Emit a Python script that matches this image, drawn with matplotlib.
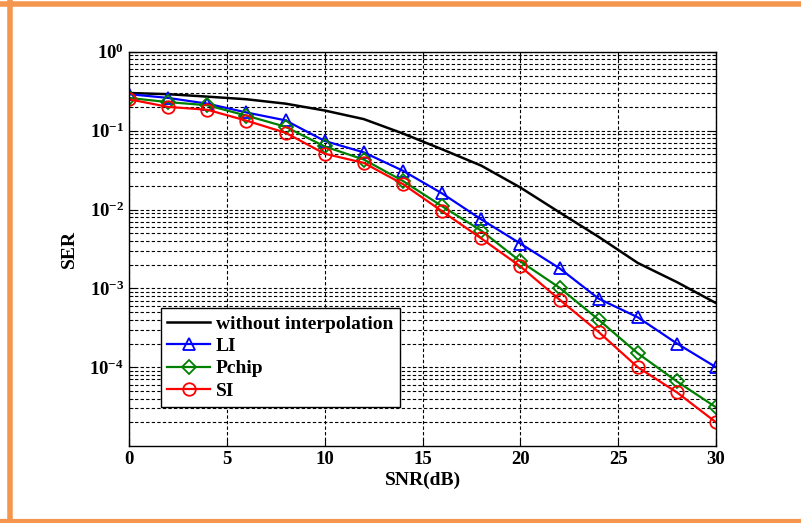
import matplotlib
matplotlib.use("Agg")
import matplotlib.pyplot as plt
from matplotlib.lines import Line2D
from matplotlib.ticker import LogLocator, NullFormatter

plt.rcParams["font.family"] = "Liberation Serif"
plt.rcParams["font.weight"] = "bold"
plt.rcParams["mathtext.fontset"] = "custom"
plt.rcParams["mathtext.rm"] = "Liberation Serif:bold"
plt.rcParams["mathtext.it"] = "Liberation Serif:bold"
plt.rcParams["mathtext.bf"] = "Liberation Serif:bold"

# data
snr = [0, 2, 4, 6, 8, 10, 12, 14, 16, 18, 20, 22, 24, 26, 28, 30]
ser_none = [0.30, 0.29, 0.27, 0.25, 0.22, 0.18, 0.14, 0.092, 0.058, 0.036,
            0.019, 0.0092, 0.0045, 0.0021, 0.0012, 0.00065]
ser_li = [0.29, 0.26, 0.22, 0.17, 0.135, 0.074, 0.053, 0.031, 0.016, 0.0075,
          0.0037, 0.0018, 0.00074, 0.00043, 0.0002, 0.0001]
ser_pchip = [0.26, 0.23, 0.21, 0.155, 0.112, 0.063, 0.043, 0.023, 0.011, 0.0054,
             0.0022, 0.00102, 0.0004, 0.00015, 0.000066, 0.000031]
ser_si = [0.25, 0.20, 0.184, 0.134, 0.094, 0.051, 0.039, 0.021, 0.0095, 0.0043,
          0.0019, 0.00072, 0.00028, 0.0001, 0.000048, 0.00002]
labels = ["without interpolation", "LI", "Pchip", "SI"]

fig = plt.figure(figsize=(8.01, 5.23), dpi=100)
ax = fig.add_axes([0.161, 0.147, 0.733, 0.754])

ax.semilogy(snr, ser_none, color="black", lw=1.8, label=labels[0])
ax.semilogy(snr, ser_li, color="blue", lw=1.6, marker="^", ms=9, mfc="none",
            mew=1.3, label=labels[1])
ax.semilogy(snr, ser_pchip, color="green", lw=1.6, marker="D", ms=7, mfc="none",
            mew=1.3, label=labels[2])
ax.semilogy(snr, ser_si, color="red", lw=1.6, marker="o", ms=9, mfc="none",
            mew=1.3, label=labels[3])

ax.set_xlim(0, 30)
ax.set_ylim(1e-5, 1)
ax.set_xticks([0, 5, 10, 15, 20, 25, 30])
ax.set_yticks([1e0, 1e-1, 1e-2, 1e-3, 1e-4])
ax.yaxis.set_minor_locator(LogLocator(base=10, subs=range(2, 10), numticks=20))
ax.yaxis.set_minor_formatter(NullFormatter())
ax.tick_params(which="both", direction="in", top=True, right=True, labelsize=13.5)
ax.tick_params(which="major", length=5)
ax.tick_params(which="minor", length=3)

ax.grid(True, which="major", axis="both", color="black", ls=(0, (3, 2)), lw=0.8)
ax.grid(True, which="minor", axis="y", color="black", ls=(0, (3, 2)), lw=0.8)
for s in ax.spines.values():
    s.set_linewidth(1.0)

ax.set_xlabel("SNR(dB)", fontsize=14, fontweight="bold", labelpad=3)
ax.set_ylabel("SER", fontsize=14, fontweight="bold", labelpad=8)

leg = ax.legend(loc="upper left", bbox_to_anchor=(0.054, 0.35), fontsize=14,
                fancybox=False, framealpha=1, edgecolor="black",
                handlelength=2.2, borderpad=0.35, labelspacing=0.25,
                handletextpad=0.3, borderaxespad=0)
leg.get_frame().set_linewidth(1.0)

# orange frame around the picture
orange = "#F5964F"
fig.add_artist(Line2D([9.5 / 801, 9.5 / 801], [0, 1], transform=fig.transFigure,
                      color=orange, lw=4))
fig.add_artist(Line2D([0, 1], [1 - 4 / 523, 1 - 4 / 523], transform=fig.transFigure,
                      color=orange, lw=4))
fig.add_artist(Line2D([0, 1], [1 - 520.5 / 523, 1 - 520.5 / 523],
                      transform=fig.transFigure, color=orange, lw=3))

fig.savefig("out.png", dpi=100)
